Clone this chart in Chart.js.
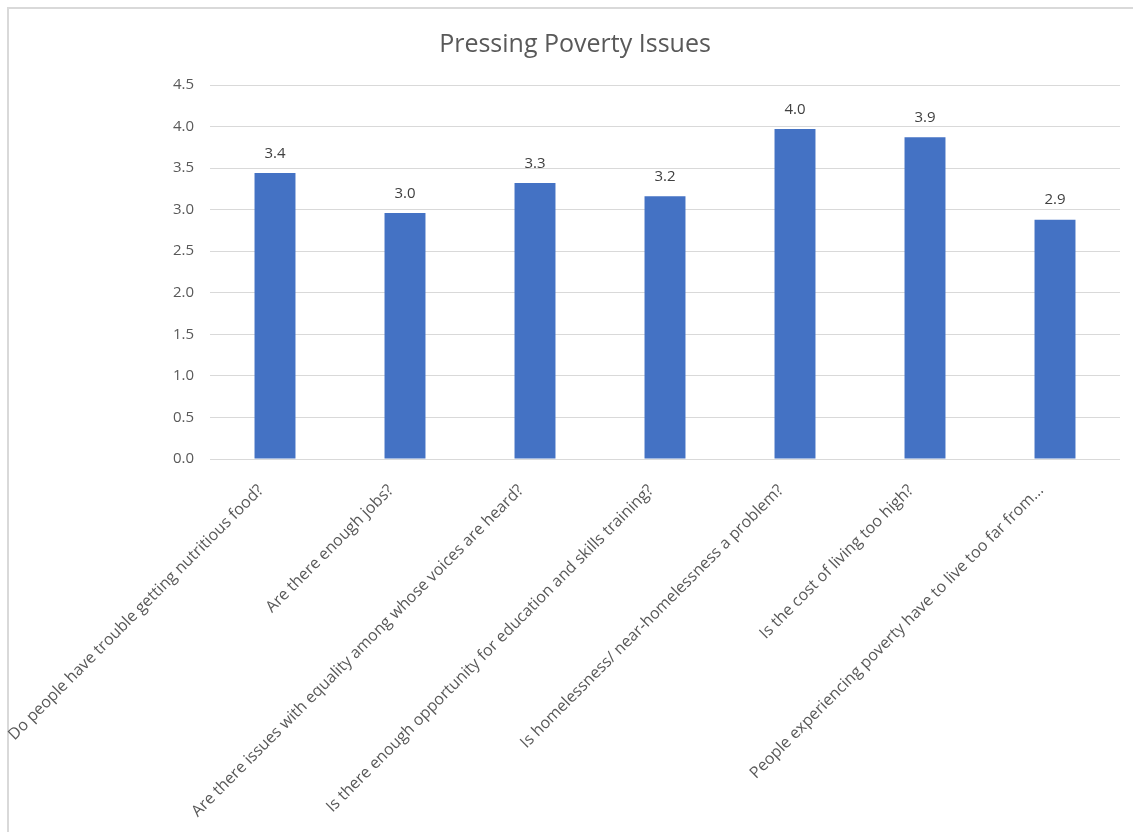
<!DOCTYPE html>
<html>
<head>
<meta charset="utf-8">
<title>Pressing Poverty Issues</title>
<script src="https://cdn.jsdelivr.net/npm/chart.js@4.4.1/dist/chart.umd.min.js"></script>
<style>
    html, body { margin: 0; padding: 0; background: #ffffff; overflow: hidden; }
    #frame {
        position: absolute; left: 7px; top: 7px; width: 1140px; height: 840px;
        border-left: 2px solid #d9d9d9; border-top: 2px solid #d9d9d9;
    }
    #chart { position: absolute; left: 0; top: 0; }
</style>
</head>
<body>
<div id="frame"></div>
<canvas id="chart" width="1133" height="832"></canvas>
<script>
const questions = [
    "Do people have trouble getting nutritious food?",
    "Are there enough jobs?",
    "Are there issues with equality among whose voices are heard?",
    "Is there enough opportunity for education and skills training?",
    "Is homelessness/ near-homelessness a problem?",
    "Is the cost of living too high?",
    "People experiencing poverty have to live too far from..."
];
const scores = [3.44, 2.96, 3.32, 3.16, 3.97, 3.87, 2.88];
const yTicks = [0, 0.5, 1, 1.5, 2, 2.5, 3, 3.5, 4, 4.5];

const FONT = "'Open Sans', 'Noto Sans', sans-serif";

// value labels above each bar, one decimal
const barValues = {
    id: "barValues",
    afterDatasetsDraw(chart) {
        const ctx = chart.ctx;
        const meta = chart.getDatasetMeta(0);
        ctx.save();
        ctx.font = "15px " + FONT;
        ctx.fillStyle = "#404040";
        ctx.textAlign = "center";
        ctx.textBaseline = "bottom";
        meta.data.forEach((bar, i) => {
            ctx.fillText(scores[i].toFixed(1), bar.x, bar.y - 12);
        });
        ctx.restore();
    }
};

new Chart(document.getElementById("chart"), {
    type: "bar",
    data: {
        labels: questions,
        datasets: [{
            data: scores,
            backgroundColor: "#4472c4",
            categoryPercentage: 1,
            barPercentage: 0.315
        }]
    },
    options: {
        responsive: false,
        animation: false,
        layout: { padding: { left: 30, right: 13, top: 0, bottom: 0 } },
        plugins: {
            legend: { display: false },
            tooltip: { enabled: false },
            title: {
                display: true,
                text: "Pressing Poverty Issues",
                color: "#595959",
                font: { family: FONT, size: 25, weight: "normal" },
                padding: { top: 30, bottom: 25 }
            }
        },
        scales: {
            x: {
                grid: { display: false },
                border: { display: false },
                ticks: {
                    color: "#595959",
                    font: { family: FONT, size: 16 },
                    minRotation: 45,
                    maxRotation: 45,
                    autoSkip: false,
                    padding: 14,
                    labelOffset: -14
                },
                afterFit(scale) {
                    scale.height = 373;
                    // long rotated labels may hang past the plot edge
                    scale.paddingLeft = 0;
                    scale.paddingRight = 0;
                }
            },
            y: {
                min: 0,
                max: 4.5,
                afterBuildTicks(scale) {
                    scale.ticks = yTicks.map(v => ({ value: v }));
                },
                grid: { color: "#d9d9d9", lineWidth: 1, drawTicks: false },
                border: { display: false },
                ticks: {
                    color: "#595959",
                    font: { family: FONT, size: 15 },
                    padding: 16,
                    callback: v => Number(v).toFixed(1)
                },
                afterFit(scale) { scale.width = 180; }
            }
        }
    },
    plugins: [barValues]
});
</script>
</body>
</html>
